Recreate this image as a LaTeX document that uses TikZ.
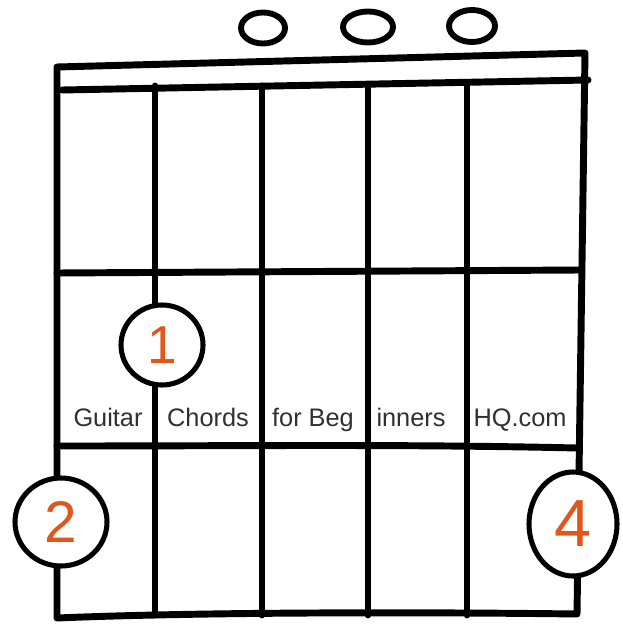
\documentclass[tikz,border=0pt]{standalone}
\usepackage{fontspec}
\setmainfont{Liberation Sans}
\usetikzlibrary{shapes.geometric}
\definecolor{fing}{HTML}{E0561C}
\definecolor{ink}{HTML}{303030}
\begin{document}
\begin{tikzpicture}[x=0.75pt,y=-0.75pt,line cap=round,line join=round,
  bar/.style={line width=5.2pt,black},
  openmark/.style={draw,ellipse,line width=4.4pt,inner sep=0pt},
  finger/.style={draw,ellipse,line width=3.8pt,fill=white,inner sep=0pt,text=fing},
  lbl/.style={text=ink,font=\fontsize{19}{21}\selectfont,inner sep=0pt,anchor=base}]
\useasboundingbox (0,0) rectangle (622,624);
% frame corners
\coordinate (tl) at (57,67);
\coordinate (tr) at (585,53);
\coordinate (bl) at (57,618);
\coordinate (br) at (577,614);
\coordinate (nl) at (62,90);
\coordinate (nr) at (588,80);
% string coordinates
\foreach \n/\x in {2/155,3/262,4/368,5/467}{
  \coordinate (s\n t) at (\x,86);
  \coordinate (s\n b) at (\x,615);
}
\coordinate (f1l) at (57,273); \coordinate (f1r) at (580,270);
\coordinate (f2l) at (57,446); \coordinate (f2r) at (577,448);
% frame
\draw[bar] (bl) -- (tl) -- (tr) -- (br) .. controls (420,612) and (200,612) .. (bl);
\draw[bar] (nl) -- (nr);
\foreach \n in {2,3,4,5}{\draw[bar] (s\n t) -- (s\n b);}
\draw[bar] (f1l) -- (f1r);
\draw[bar] (f2l) .. controls (250,446) and (400,444) .. (f2r);
% open strings
\node[openmark,minimum width=44pt*0.75,minimum height=31pt*0.75] (o4) at (263,28) {};
\node[openmark,minimum width=50pt*0.75,minimum height=31pt*0.75] (o5) at (368,27) {};
\node[openmark,minimum width=46pt*0.75,minimum height=32pt*0.75] (o6) at (472,26) {};
% fingers
\node[finger,minimum width=82pt*0.75,minimum height=80pt*0.75,font=\fontsize{40}{40}\selectfont] (f1) at (162,345) {1};
\node[finger,minimum width=92pt*0.75,minimum height=88pt*0.75,font=\fontsize{44}{44}\selectfont] (f2) at (61,522) {2};
\node[finger,minimum width=88pt*0.75,minimum height=104pt*0.75,font=\fontsize{50}{50}\selectfont] (f4) at (573,524) {4};
% watermark text
\node[lbl] (w1) at (108,426) {Guitar};
\node[lbl] (w2) at (208,426) {Chords};
\node[lbl] (w3) at (313,426) {for Beg};
\node[lbl] (w4) at (411,426) {inners};
\node[lbl] (w5) at (520,426) {HQ.com};
\end{tikzpicture}
\end{document}
